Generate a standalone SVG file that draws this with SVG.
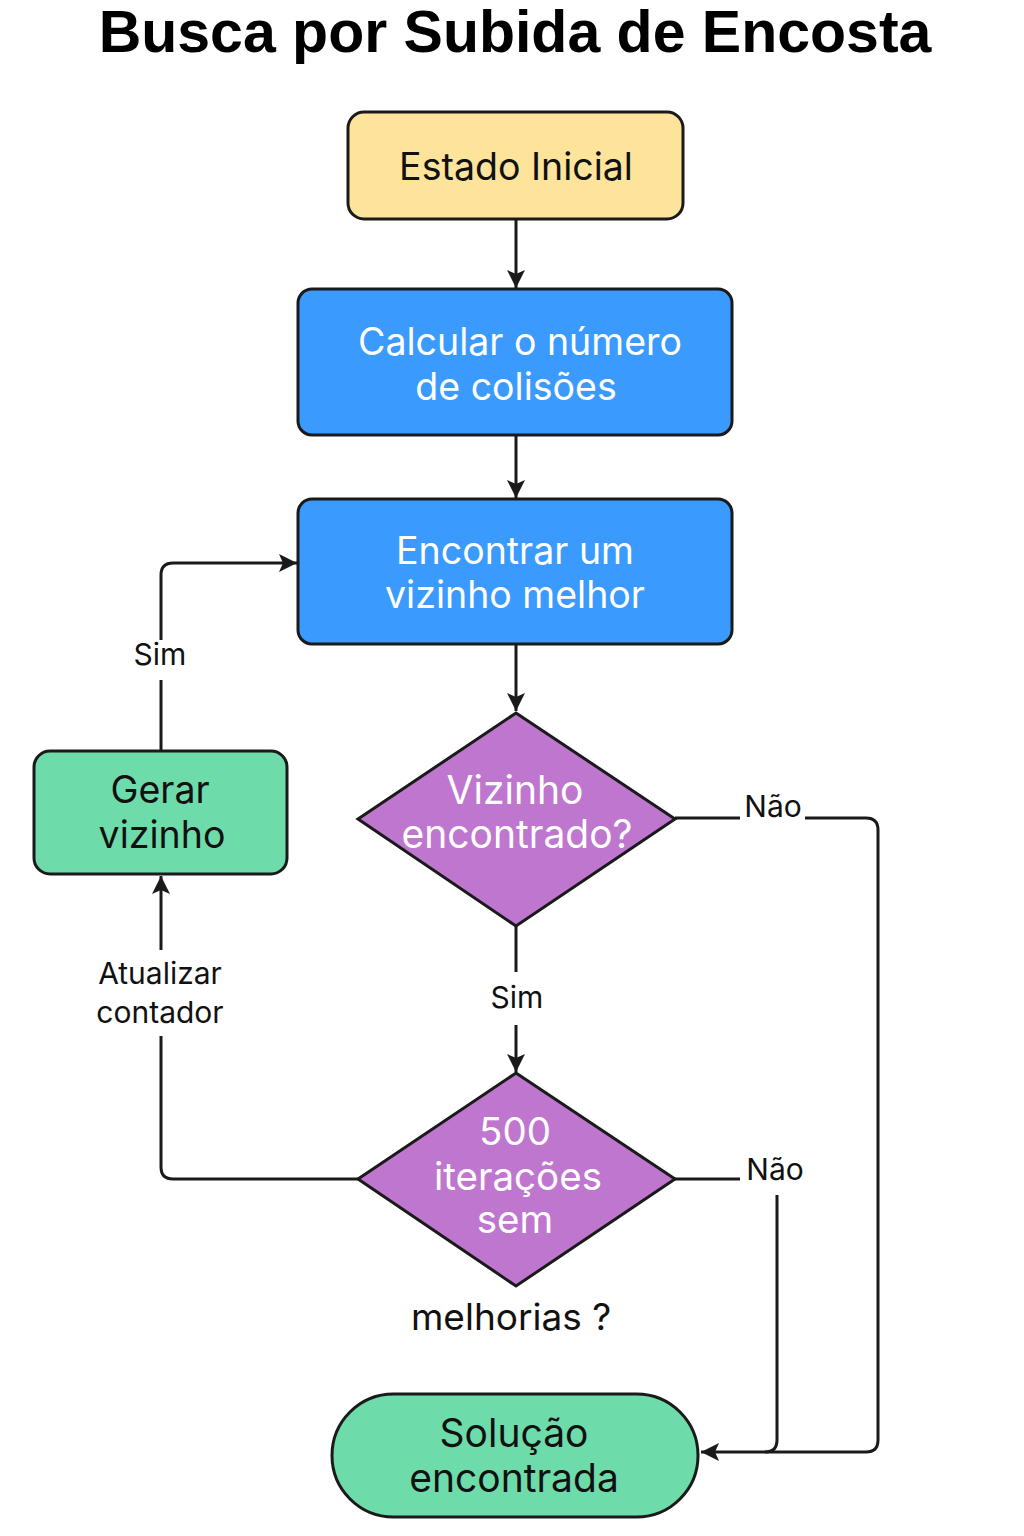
<svg xmlns="http://www.w3.org/2000/svg" width="1024" height="1536" viewBox="0 0 1024 1536">
  <defs>
    <marker id="arrow" markerUnits="userSpaceOnUse" markerWidth="20" markerHeight="20" viewBox="0 0 20 20" refX="18" refY="10" orient="auto">
      <path d="M0,1 L18,10 L0,19 L4,10 Z" fill="#1a1a1a"/>
    </marker>
    <style>
      .box { stroke: #1a1a1a; stroke-width: 3; }
      .yellow { fill: #FEE49A; }
      .blue { fill: #3B9AFD; }
      .green { fill: #6EDBAA; }
      .purple { fill: #BF76CF; }
      .t { font-family: Inter, "Liberation Sans", sans-serif; text-anchor: middle; }
      .w { fill: #ffffff; }
      .k { fill: #111111; }
      .lbl { font-family: Inter, "Liberation Sans", sans-serif; text-anchor: middle; fill: #111111; font-size: 30px; }
      .conn { fill: none; stroke: #1a1a1a; stroke-width: 3; }
    </style>
  </defs>
  <rect width="1024" height="1536" fill="#ffffff"/>
  <text x="515" y="52" font-family="'Liberation Sans', Arial, sans-serif" font-weight="bold" font-size="59" text-anchor="middle" fill="#000000">Busca por Subida de Encosta</text>

  <g id="connectors">
    <path class="conn" d="M516,219 V288" marker-end="url(#arrow)"/>
    <path class="conn" d="M516,435 V498" marker-end="url(#arrow)"/>
    <path class="conn" d="M516,644 V711" marker-end="url(#arrow)"/>
    <path class="conn" d="M675,818 H740"/>
    <path class="conn" d="M805,818 H866 Q878,818 878,830 V1440 Q878,1452 866,1452 H701" marker-end="url(#arrow)"/>
    <path class="conn" d="M516,926 V972"/>
    <path class="conn" d="M516,1025 V1072" marker-end="url(#arrow)"/>
    <path class="conn" d="M675,1179 H740"/>
    <path class="conn" d="M777,1195 V1440 Q777,1452 765,1452"/>
    <path class="conn" d="M358,1179 H173 Q161,1179 161,1167 V1036"/>
    <path class="conn" d="M161,950 V876" marker-end="url(#arrow)"/>
    <path class="conn" d="M161,751 V680"/>
    <path class="conn" d="M161,640 V575 Q161,563 173,563 H297" marker-end="url(#arrow)"/>
    <text class="lbl" x="773" y="817">Não</text>
    <text class="lbl" x="517" y="1008">Sim</text>
    <text class="lbl" x="775" y="1180">Não</text>
    <text class="lbl" x="160" y="984">Atualizar</text>
    <text class="lbl" x="160" y="1023">contador</text>
    <text class="lbl" x="160" y="665">Sim</text>
  </g>

  <g id="estado-inicial">
    <rect class="box yellow" x="348" y="112" width="335" height="107" rx="16"/>
    <text class="t k" x="516" y="180" font-size="37.5">Estado Inicial</text>
  </g>

  <g id="calcular">
    <rect class="box blue" x="298" y="289" width="434" height="146" rx="14"/>
    <text class="t w" x="520" y="355" font-size="37.5">Calcular o número</text>
    <text class="t w" x="516" y="400" font-size="37.5">de colisões</text>
  </g>

  <g id="encontrar">
    <rect class="box blue" x="298" y="499" width="434" height="145" rx="14"/>
    <text class="t w" x="515" y="564" font-size="37.5">Encontrar um</text>
    <text class="t w" x="515" y="608" font-size="37.5">vizinho melhor</text>
  </g>

  <g id="vizinho-encontrado">
    <polygon class="box purple" points="516,713 675,819 516,926 358,819"/>
    <text class="t w" x="515" y="804" font-size="39">Vizinho</text>
    <text class="t w" x="517" y="848" font-size="39">encontrado?</text>
  </g>

  <g id="iteracoes">
    <polygon class="box purple" points="516,1073 675,1179 516,1286 358,1179"/>
    <text class="t w" x="515" y="1145" font-size="38.5">500</text>
    <text class="t w" x="518" y="1190" font-size="38.5">iterações</text>
    <text class="t w" x="515" y="1233" font-size="38.5">sem</text>
    <text class="t k" x="511" y="1330" font-size="37">melhorias ?</text>
  </g>

  <g id="gerar-vizinho">
    <rect class="box green" x="34" y="751" width="253" height="123" rx="16"/>
    <text class="t k" x="160" y="803" font-size="37.5">Gerar</text>
    <text class="t k" x="162" y="848" font-size="37.5">vizinho</text>
  </g>

  <g id="solucao">
    <rect class="box green" x="332" y="1394" width="366" height="123" rx="61.5"/>
    <text class="t k" x="514" y="1447" font-size="39">Solução</text>
    <text class="t k" x="514" y="1492" font-size="39">encontrada</text>
  </g>
</svg>
